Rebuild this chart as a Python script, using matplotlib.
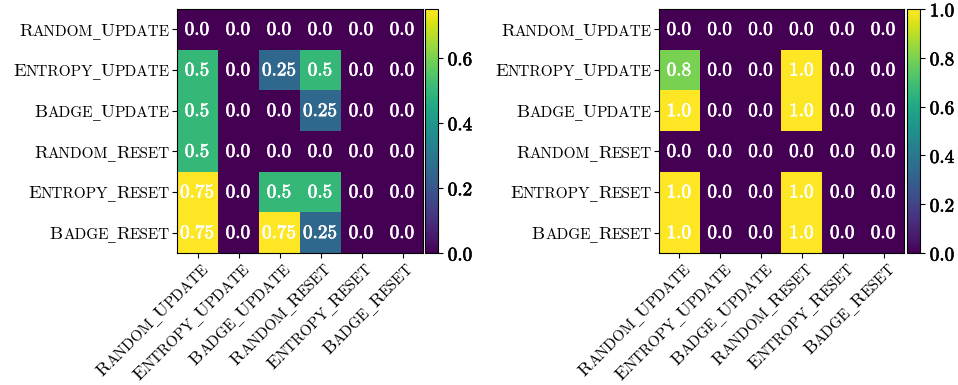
import numpy as np
import matplotlib.pyplot as plt
import matplotlib.patheffects as pe

plt.rcParams['mathtext.fontset'] = 'cm'

names = ['Random_Update', 'Entropy_Update', 'Badge_Update',
         'Random_Reset', 'Entropy_Reset', 'Badge_Reset']

left_vals = [[0.0, 0.0, 0.0, 0.0, 0.0, 0.0],
             [0.5, 0.0, 0.25, 0.5, 0.0, 0.0],
             [0.5, 0.0, 0.0, 0.25, 0.0, 0.0],
             [0.5, 0.0, 0.0, 0.0, 0.0, 0.0],
             [0.75, 0.0, 0.5, 0.5, 0.0, 0.0],
             [0.75, 0.0, 0.75, 0.25, 0.0, 0.0]]
right_vals = [[0.0, 0.0, 0.0, 0.0, 0.0, 0.0],
              [0.8, 0.0, 0.0, 1.0, 0.0, 0.0],
              [1.0, 0.0, 0.0, 1.0, 0.0, 0.0],
              [0.0, 0.0, 0.0, 0.0, 0.0, 0.0],
              [1.0, 0.0, 0.0, 1.0, 0.0, 0.0],
              [1.0, 0.0, 0.0, 1.0, 0.0, 0.0]]
left_ticks = [0.0, 0.2, 0.4, 0.6]
right_ticks = [0.0, 0.2, 0.4, 0.6, 0.8, 1.0]

W, H = 958, 385
fig = plt.figure(figsize=(W / 100, H / 100), dpi=100)

BIG, SMALL, NUM = 13.4, 11.0, 13.8


def px(x0, y0, x1, y1):
    # pixel box (top-left origin) -> figure fraction rect
    return [x0 / W, 1 - y1 / H, (x1 - x0) / W, (y1 - y0) / H]


def heavy(color):
    return [pe.withStroke(linewidth=0.45, foreground=color)]


def heatmap(box, cbox, vals, vmax, ticks):
    ax = fig.add_axes(px(*box))
    im = ax.imshow(np.array(vals), cmap='viridis', vmin=0, vmax=vmax, aspect='auto')
    ax.set_xticks(range(len(names)))
    ax.set_yticks(range(len(names)))
    ax.set_xticklabels([])
    ax.set_yticklabels([])
    for i, row in enumerate(vals):
        for j, v in enumerate(row):
            ax.text(j, i, r'$\mathbf{%s}$' % v, ha='center', va='center',
                    color='white', fontsize=NUM, path_effects=heavy('white'))
    cax = fig.add_axes(px(*cbox))
    cb = fig.colorbar(im, cax=cax, ticks=ticks)
    labels = cb.ax.set_yticklabels([r'$\mathbf{%.1f}$' % t for t in ticks], fontsize=NUM)
    for t in labels:
        t.set_path_effects(heavy('black'))
    return ax


ax1 = heatmap((177, 9, 423, 253), (425, 9, 438, 253), left_vals, 0.75, left_ticks)
ax2 = heatmap((659, 9, 904, 253), (907, 9, 920, 253), right_vals, 1.0, right_ticks)

fig.canvas.draw()
renderer = fig.canvas.get_renderer()


def pieces(label):
    # small caps: first letter full size, the rest as smaller capitals
    out = []
    for k, word in enumerate(label.split('_')):
        if k:
            out.append(('_', SMALL, 'DejaVu Serif'))
        out.append((word[0], BIG, 'cmr10'))
        out.append((word[1:].upper(), SMALL, 'cmr10'))
    return out


def widths(parts):
    ws = []
    for s, fs, fam in parts:
        t = fig.text(0, 0, s, fontsize=fs, family=fam)
        ws.append(t.get_window_extent(renderer).width)
        t.remove()
    return ws


def smallcaps(label, x, y, angle):
    # (x, y): display point at the top-right / right-middle of the label
    parts = pieces(label)
    ws = widths(parts)
    total = sum(ws)
    cap = 0.683 * BIG * 100 / 72
    a = np.radians(angle)
    d = np.array([np.cos(a), np.sin(a)])
    n = np.array([-np.sin(a), np.cos(a)])
    if angle == 0:
        start = np.array([x - total, y - cap / 2])
    else:
        start = np.array([x, y]) - cap * n - total * d
    pos = start.copy()
    for (s, fs, fam), w in zip(parts, ws):
        fig.text(pos[0] / W, pos[1] / H, s, fontsize=fs, family=fam, rotation=angle,
                 rotation_mode='anchor', ha='left', va='baseline')
        pos = pos + w * d


for ax in (ax1, ax2):
    left, bottom = ax.transAxes.transform((0, 0))
    for i, name in enumerate(names):
        _, yc = ax.transData.transform((0, i))
        smallcaps(name, left - 7, yc, 0)
        xc, _ = ax.transData.transform((i, 0))
        smallcaps(name, xc + 3, bottom - 8, 45)

fig.savefig('out.png', dpi=100)
